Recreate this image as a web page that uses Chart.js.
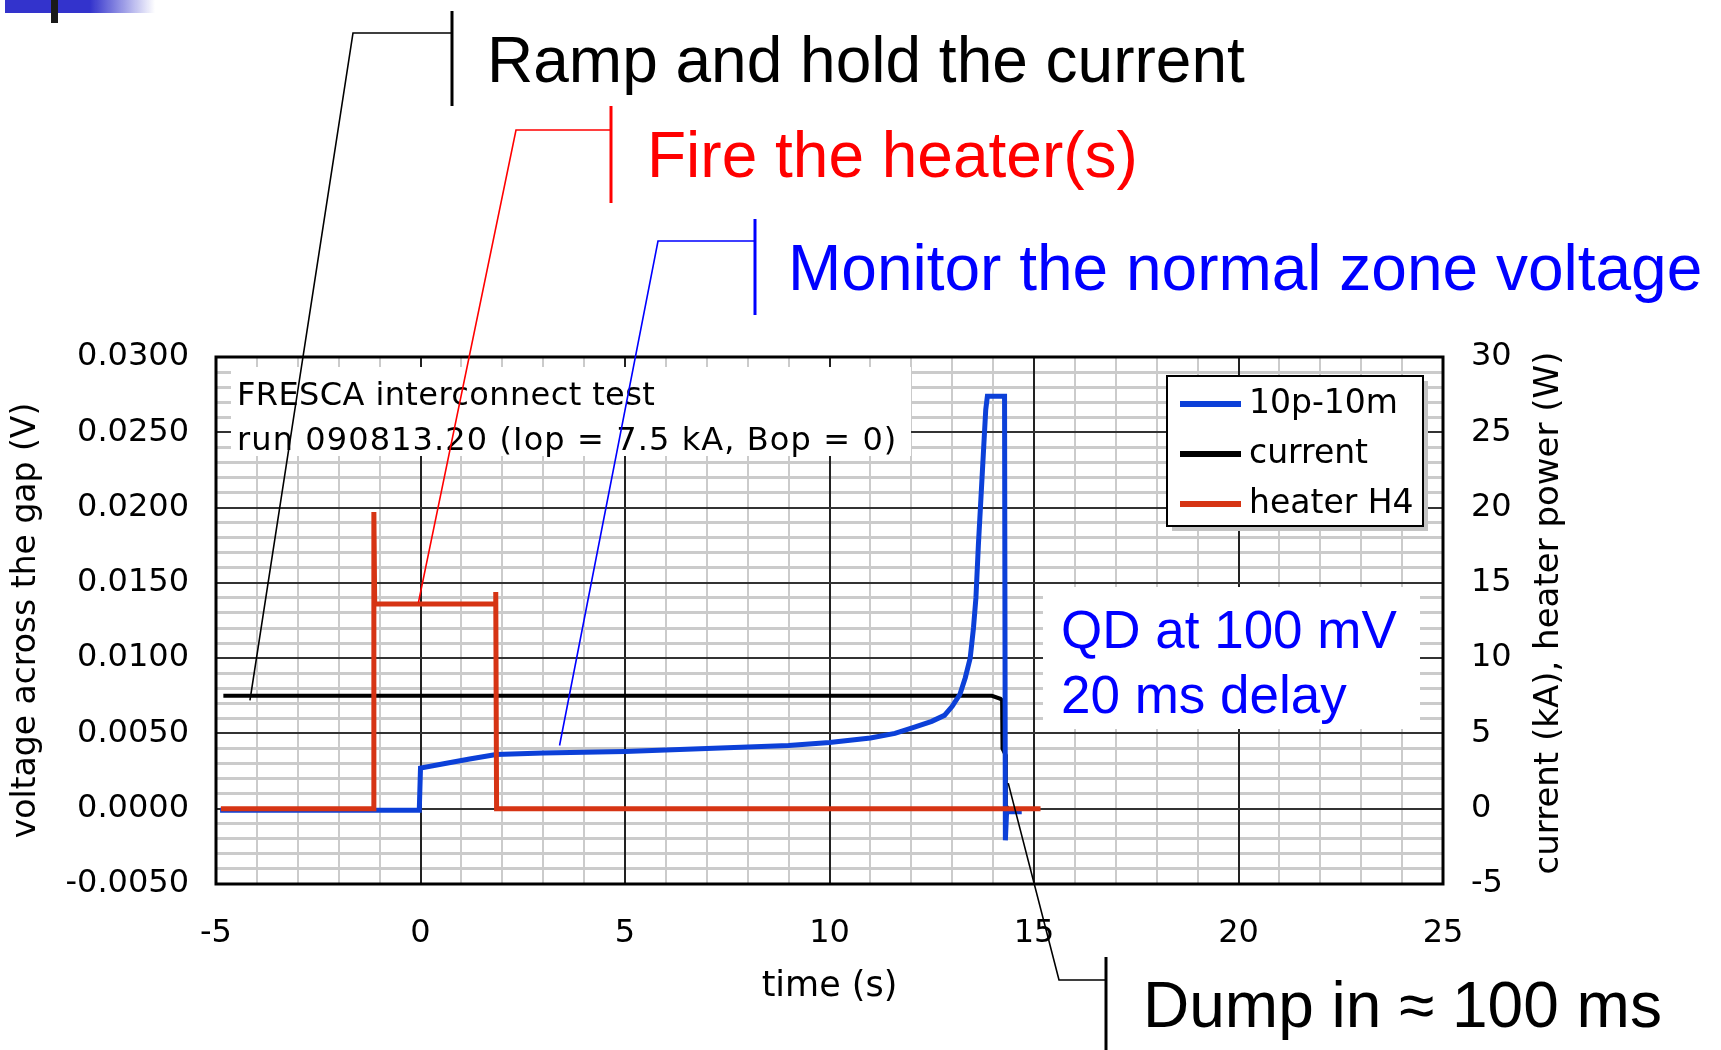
<!DOCTYPE html>
<html>
<head>
<meta charset="utf-8">
<script src="https://cdn.jsdelivr.net/npm/chart.js@4.4.1/dist/chart.umd.min.js"></script>
<style>
  html, body { margin: 0; padding: 0; background: #fff; }
  canvas { display: block; }
</style>
</head>
<body>
<canvas id="mycanvas" width="1721" height="1050"></canvas>
<script>
// 10p-10m voltage across the gap (V)
var voltTime  = [-4.9, -0.03, 0.0, 0.6, 1.2, 1.85, 3, 5, 7, 9, 10, 11, 11.6, 12.06, 12.5, 12.81, 13.0, 13.19, 13.32, 13.44, 13.52, 13.58, 13.64, 13.70, 13.76, 13.82, 13.86, 14.28, 14.30, 14.33, 14.7];
var voltValue = [-0.0001, -0.0001, 0.0027, 0.0030, 0.0033, 0.0036, 0.0037, 0.0038, 0.0040, 0.0042, 0.0044, 0.0047, 0.0050, 0.0054, 0.0058, 0.0062, 0.0068, 0.0076, 0.0087, 0.0100, 0.0120, 0.0140, 0.0175, 0.0205, 0.0235, 0.0265, 0.0274, 0.0274, -0.0021, -0.0002, -0.0002];

// magnet current (kA)
var currTime  = [-4.82, 13.97, 14.18, 14.22, 14.23, 14.30, 14.31, 14.36];
var currValue = [7.5, 7.5, 7.3, 7.2, 4.0, 3.6, 0.2, 0.0];

// heater H4 power (W)
var heatTime  = [-4.88, -1.15, -1.14, -1.12, 1.83, 1.84, 1.86, 15.16];
var heatValue = [0, 0, 19.7, 13.6, 13.6, 14.4, 0, 0];

var seriesLabels = ['10p-10m', 'current', 'heater H4'];
var seriesColors = ['#0c40d8', '#000000', '#d63414'];

var runInfo = ['FRESCA interconnect test', 'run 090813.20 (Iop = 7.5 kA, Bop = 0)'];
var qdInfo  = ['QD at 100 mV', '20 ms delay'];

// callouts: text with a bracket and a leader line down to a point on the curves
var callouts = [
  { text: 'Ramp and hold the current', color: '#000000', tx: 487, ty: 82,
    bar: [452, 11, 106], elbow: [353, 33], to: { x: -4.17, y: 7.2, axis: 'y1' } },
  { text: 'Fire the heater(s)', color: '#ff0000', tx: 647, ty: 177,
    bar: [611, 106, 203], elbow: [516, 130], to: { x: -0.05, y: 13.7, axis: 'y1' } },
  { text: 'Monitor the normal zone voltage', color: '#0000ff', tx: 788, ty: 290,
    bar: [755, 219, 315], elbow: [658, 241], to: { x: 3.4, y: 0.0042, axis: 'y' } },
  { text: 'Dump in \u2248 100 ms', color: '#000000', tx: 1143, ty: 1027,
    bar: [1106, 957, 1050], elbow: [1059, 980], to: { x: 14.37, y: 1.7, axis: 'y1' } }
];

var chartFont = 'DejaVu Sans';
var noteFont = 'Liberation Sans';

function toPoints(t, v) {
  var pts = [];
  for (var i = 0; i < t.length; i++) pts.push({ x: t[i], y: v[i] });
  return pts;
}

function isMajorX(v) { return Math.round(v) % 5 === 0; }
function isMajorY(v) { return Math.round(v * 1000) % 5 === 0; }

var extras = {
  id: 'extras',
  beforeDatasetsDraw: function (chart) {
    var c = chart.ctx, a = chart.chartArea;
    var xs = chart.scales.x, ys = chart.scales.y;
    c.save();

    // major grid lines go over the light minor ones
    c.lineWidth = 2;
    c.strokeStyle = '#222';
    xs.ticks.forEach(function (t) {
      if (!isMajorX(t.value)) return;
      var p = Math.round(xs.getPixelForValue(t.value));
      c.beginPath(); c.moveTo(p, a.top); c.lineTo(p, a.bottom); c.stroke();
    });
    c.strokeStyle = '#333';
    ys.ticks.forEach(function (t) {
      if (!isMajorY(t.value)) return;
      var p = Math.round(ys.getPixelForValue(t.value));
      c.beginPath(); c.moveTo(a.left, p); c.lineTo(a.right, p); c.stroke();
    });

    // white boxes behind the notes inside the plot
    c.fillStyle = '#fff';
    c.fillRect(231, 367, 680, 89);
    c.fillRect(1043, 587, 377, 142);

    c.strokeStyle = '#000';
    c.lineWidth = 3;
    c.strokeRect(a.left, a.top, a.right - a.left, a.bottom - a.top);

    c.fillStyle = '#000';
    c.font = '32px "' + chartFont + '"';
    c.textBaseline = 'alphabetic';
    c.letterSpacing = '0.4px';
    c.fillText(runInfo[0], 237, 405);
    c.letterSpacing = '1.1px';
    c.fillText(runInfo[1], 237, 450);
    c.letterSpacing = '0px';

    c.fillStyle = '#0000ff';
    c.font = '53px "' + noteFont + '"';
    c.fillText(qdInfo[0], 1061, 648);
    c.fillText(qdInfo[1], 1061, 713);
    c.restore();
  },
  afterDatasetsDraw: function (chart) {
    var c = chart.ctx;
    c.save();

    // legend
    c.fillStyle = '#c4c4c4';
    c.fillRect(1172, 381, 256, 150);
    c.fillStyle = '#fff';
    c.fillRect(1167, 376, 256, 150);
    c.strokeStyle = '#000';
    c.lineWidth = 2;
    c.strokeRect(1167, 376, 256, 150);
    c.font = '33px "' + chartFont + '"';
    c.textBaseline = 'middle';
    chart.data.datasets.forEach(function (ds, i) {
      var y = 404 + i * 50;
      c.strokeStyle = ds.borderColor;
      c.lineWidth = 6;
      c.beginPath();
      c.moveTo(1180, y);
      c.lineTo(1241, y);
      c.stroke();
      c.fillStyle = '#000';
      c.fillText(ds.label, 1249, y);
    });

    // right axis title, reading upwards
    c.save();
    c.translate(1549, 613);
    c.rotate(-Math.PI / 2);
    c.textAlign = 'center';
    c.fillStyle = '#000';
    c.font = '34px "' + chartFont + '"';
    c.fillText('current (kA), heater power (W)', 0, 0);
    c.restore();

    // callouts
    callouts.forEach(function (n) {
      var px = chart.scales.x.getPixelForValue(n.to.x);
      var py = chart.scales[n.to.axis].getPixelForValue(n.to.y);
      c.strokeStyle = n.color;
      c.lineWidth = 1.6;
      c.beginPath();
      c.moveTo(px, py);
      c.lineTo(n.elbow[0], n.elbow[1]);
      c.lineTo(n.bar[0], n.elbow[1]);
      c.stroke();
      c.lineWidth = 3;
      c.beginPath();
      c.moveTo(n.bar[0], n.bar[1]);
      c.lineTo(n.bar[0], n.bar[2]);
      c.stroke();
      c.fillStyle = n.color;
      c.font = '64px "' + noteFont + '"';
      c.textBaseline = 'alphabetic';
      c.fillText(n.text, n.tx, n.ty);
    });

    // slide header bar
    var g = c.createLinearGradient(90, 0, 155, 0);
    g.addColorStop(0, '#3333cc');
    g.addColorStop(1, 'rgba(51,51,204,0)');
    c.fillStyle = g;
    c.fillRect(5, 0, 150, 13);
    c.fillStyle = '#1a1a1a';
    c.fillRect(51, 0, 7, 23);
    c.restore();
  }
};

Chart.defaults.font.family = chartFont;
Chart.defaults.color = '#000';

var ctx = document.getElementById('mycanvas');
var myChart = new Chart(ctx, {
  type: 'line',
  data: {
    datasets: [
      { label: seriesLabels[0], data: toPoints(voltTime, voltValue), yAxisID: 'y',
        borderColor: seriesColors[0], borderWidth: 5, order: 1 },
      { label: seriesLabels[1], data: toPoints(currTime, currValue), yAxisID: 'y1',
        borderColor: seriesColors[1], borderWidth: 4, order: 2 },
      { label: seriesLabels[2], data: toPoints(heatTime, heatValue), yAxisID: 'y1',
        borderColor: seriesColors[2], borderWidth: 5, order: 0 }
    ]
  },
  options: {
    responsive: false,
    animation: false,
    layout: { padding: { top: 357, left: 0, right: 0, bottom: 0 } },
    elements: { point: { radius: 0 }, line: { tension: 0, fill: false } },
    plugins: { legend: { display: false }, tooltip: { enabled: false } },
    scales: {
      x: {
        type: 'linear', min: -5, max: 25,
        ticks: {
          stepSize: 1, autoSkip: false, maxRotation: 0, padding: 30,
          font: { size: 32 },
          callback: function (v) { return isMajorX(v) ? String(Math.round(v)) : ''; }
        },
        grid: {
          drawTicks: false,
          lineWidth: 2,
          color: function (c) { return c.tick && isMajorX(c.tick.value) ? 'rgba(0,0,0,0)' : '#cbcbcb'; }
        },
        border: { display: false },
        title: { display: true, text: 'time (s)', font: { size: 35 }, padding: { top: 0, bottom: 42 } },
        afterFit: function (s) { s.height = 166; }
      },
      y: {
        position: 'left', min: -0.005, max: 0.03,
        ticks: {
          stepSize: 0.001, autoSkip: false, padding: 27,
          font: { size: 32 },
          callback: function (v) { return isMajorY(v) ? (Math.round(v * 1000) / 1000).toFixed(4) : ''; }
        },
        grid: {
          drawTicks: false,
          lineWidth: 3,
          color: function (c) { return c.tick && isMajorY(c.tick.value) ? 'rgba(0,0,0,0)' : '#cbcbcb'; }
        },
        border: { display: false },
        title: { display: true, text: 'voltage across the gap (V)', font: { size: 33 }, padding: { top: 7 } },
        afterFit: function (s) { s.width = 216; }
      },
      y1: {
        position: 'right', min: -5, max: 30,
        ticks: { stepSize: 5, padding: 28, font: { size: 32 } },
        grid: { display: false, drawTicks: false },
        border: { display: false },
        afterFit: function (s) { s.width = 278; }
      }
    }
  },
  plugins: [extras]
});
</script>
</body>
</html>
